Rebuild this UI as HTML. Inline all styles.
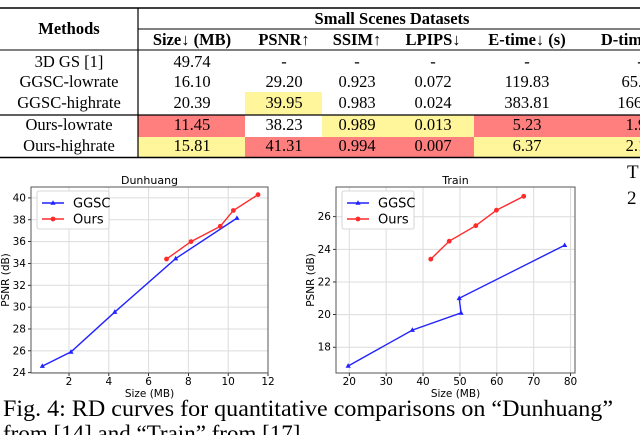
<!DOCTYPE html>
<html><head><meta charset="utf-8"><style>
html,body{margin:0;padding:0;background:#fff;width:640px;height:435px;overflow:hidden}
svg{display:block}
.t{font-family:"Liberation Serif",serif;font-size:16.5px;fill:#000}
.b{font-weight:bold}
.s{font-family:"DejaVu Sans","Liberation Sans",sans-serif;fill:#000}
</style></head><body>
<svg id="root" width="640" height="435" viewBox="0 0 640 435" xmlns="http://www.w3.org/2000/svg">
<g>
  <rect x="138" y="115" width="107" height="22" fill="#ff7f7f"/>
  <rect x="245" y="92" width="77" height="23" fill="#fff59a"/>
  <rect x="322" y="115" width="152" height="22" fill="#fff59a"/>
  <rect x="474" y="115" width="166" height="22" fill="#ff7f7f"/>
  <rect x="138" y="137" width="107" height="20" fill="#fff59a"/>
  <rect x="245" y="137" width="229" height="20" fill="#ff7f7f"/>
  <rect x="474" y="137" width="166" height="20" fill="#fff59a"/>
  <line x1="0" y1="8" x2="640" y2="8" stroke="#000" stroke-width="1.5"/>
  <line x1="138" y1="29" x2="640" y2="29" stroke="#000" stroke-width="1"/>
  <line x1="0" y1="50" x2="640" y2="50" stroke="#000" stroke-width="1"/>
  <line x1="0" y1="115" x2="640" y2="115" stroke="#000" stroke-width="1.2"/>
  <line x1="0" y1="157.5" x2="640" y2="157.5" stroke="#000" stroke-width="1.5"/>
  <line x1="138" y1="8" x2="138" y2="158" stroke="#000" stroke-width="1.2"/>
  <g text-anchor="middle">
    <text class="t b" x="69" y="34">Methods</text>
    <text class="t b" x="392" y="24">Small Scenes Datasets</text>
    <text class="t b" x="192" y="45">Size↓ (MB)</text>
    <text class="t b" x="284" y="45">PSNR↑</text>
    <text class="t b" x="357" y="45">SSIM↑</text>
    <text class="t b" x="433" y="45">LPIPS↓</text>
    <text class="t b" x="527" y="45">E-time↓ (s)</text>
    <text class="t b" x="640" y="45">D-time↓ (s)</text>
  </g>
  <g id="rows" text-anchor="middle"></g>
</g>

<g id="chart1"></g>
<g id="chart2"></g>

<text class="t" x="3" y="416" style="font-size:23px" textLength="610" lengthAdjust="spacingAndGlyphs">Fig. 4: RD curves for quantitative comparisons on “Dunhuang”</text>
<text class="t" x="3" y="441" style="font-size:23px">from [14] and “Train” from [17].</text>
<text class="t" x="627" y="178" style="font-size:19px">T</text>
<text class="t" x="627" y="204" style="font-size:19px">2</text>
</svg>
<script>
const NS="http://www.w3.org/2000/svg";
// table data
const methods=["3D GS [1]","GGSC-lowrate","GGSC-highrate","Ours-lowrate","Ours-highrate"];
const sizeVals=["49.74","16.10","20.39","11.45","15.81"];
const psnrVals=["-","29.20","39.95","38.23","41.31"];
const ssimVals=["-","0.923","0.983","0.989","0.994"];
const lpipsVals=["-","0.072","0.024","0.013","0.007"];
const etimeVals=["-","119.83","383.81","5.23","6.37"];
const dtimeVals=["-","65.12","166.21","1.91","2.13"];
// Dunhuang chart data
const dGgscX=[0.66,2.1,4.3,7.36,10.44];
const dGgscY=[24.6,25.9,29.55,34.45,38.15];
const dOursX=[6.9,8.13,9.6,10.26,11.5];
const dOursY=[34.4,36.0,37.4,38.85,40.3];
const dXTicks=[2,4,6,8,10,12];
const dYTicks=[24,26,28,30,32,34,36,38,40];
// Train chart data
const tGgscX=[19.7,37.1,50.3,49.8,78.4];
const tGgscY=[16.85,19.05,20.1,21.0,24.25];
const tOursX=[42.1,47.1,54.3,59.9,67.3];
const tOursY=[23.4,24.5,25.45,26.4,27.25];
const tXTicks=[20,30,40,50,60,70,80];
const tYTicks=[18,20,22,24,26];

function mk(tag,attrs,parent){const e=document.createElementNS(NS,tag);for(const k in attrs)e.setAttribute(k,attrs[k]);parent.appendChild(e);return e;}

const rows=document.getElementById('rows');
const rowY=[67,87,108,130,151];
const colX=[69,192,284,357,433,527,640];
const cols=[methods,sizeVals,psnrVals,ssimVals,lpipsVals,etimeVals,dtimeVals];
for(let r=0;r<methods.length;r++){
  for(let c=0;c<cols.length;c++){
    const t=mk('text',{class:'t',x:colX[c],y:rowY[r]},rows);
    
    
    t.textContent=cols[c][r];
  }
}

function chart(g,o){
  const sx=v=>o.L+(v-o.x0)/(o.x1-o.x0)*(o.R-o.L);
  const sy=v=>o.B-(v-o.y0)/(o.y1-o.y0)*(o.B-o.T);
  o.xt.forEach(v=>{
    const l=mk('line',{x1:sx(v),x2:sx(v),y1:o.T,y2:o.B,stroke:'#dcdcdc','stroke-width':1},g);
    
    
    mk('line',{x1:sx(v),x2:sx(v),y1:o.B,y2:o.B+3,stroke:'#000','stroke-width':0.8},g);
    const t=mk('text',{class:'s',x:sx(v),y:o.B+12,'font-size':10.5,'text-anchor':'middle'},g);
    
    
    t.textContent=v;
  });
  o.yt.forEach(v=>{
    const l=mk('line',{x1:o.L,x2:o.R,y1:sy(v),y2:sy(v),stroke:'#dcdcdc','stroke-width':1},g);
    
    
    mk('line',{x1:o.L-3,x2:o.L,y1:sy(v),y2:sy(v),stroke:'#000','stroke-width':0.8},g);
    const t=mk('text',{class:'s',x:o.L-5,y:sy(v)+3.5,'font-size':10.5,'text-anchor':'end'},g);
    
    
    t.textContent=v;
  });
  const fr=mk('rect',{x:o.L,y:o.T,width:o.R-o.L,height:o.B-o.T,fill:'none',stroke:'#555','stroke-width':1},g);
  
  
  const series=[[o.gx,o.gy,'#2222ff','tri','ggsc-series'],[o.ox,o.oy,'#ff2a2a','dot','ours-series']];
  series.forEach(([xs,ys,col,m,nm])=>{
    const pts=xs.map((x,i)=>sx(x)+','+sy(ys[i])).join(' ');
    const pl=mk('polyline',{points:pts,fill:'none',stroke:col,'stroke-width':1.4},g);
    
    
    xs.forEach((x,i)=>{
      const cx=sx(x),cy=sy(ys[i]);
      let p;
      if(m==='tri') p=mk('polygon',{points:`${cx},${cy-2.8} ${cx-2.6},${cy+1.8} ${cx+2.6},${cy+1.8}`,fill:col},g);
      else p=mk('circle',{cx:cx,cy:cy,r:2.4,fill:col},g);
      
      
    });
  });
  const tt=mk('text',{class:'s',x:(o.L+o.R)/2,y:o.T-3,'font-size':11,'text-anchor':'middle'},g);
  
  
  tt.textContent=o.title;
  const xl=mk('text',{class:'s',x:(o.L+o.R)/2,y:o.B+24,'font-size':10.5,'text-anchor':'middle'},g);
  
  
  xl.textContent='Size (MB)';
  const yx=o.ylx, yy=(o.T+o.B)/2;
  const yl=mk('text',{class:'s',x:yx,y:yy,'font-size':10.5,'text-anchor':'middle',transform:`rotate(-90 ${yx} ${yy})`},g);
  
  
  yl.textContent='PSNR (dB)';
  const lx=o.L+6, ly=o.T+4;
  const lg=mk('g',{},g);
  
  
  mk('rect',{x:lx,y:ly,width:72,height:38,fill:'#fff',stroke:'#ccc','stroke-width':0.8,rx:2},lg);
  [['GGSC','#2222ff','tri'],['Ours','#ff2a2a','dot']].forEach(([n,c,m],i)=>{
    const y=ly+12+i*16;
    const e=mk('g',{},lg);
    
    
    mk('line',{x1:lx+5,x2:lx+27,y1:y,y2:y,stroke:c,'stroke-width':1.4},e);
    if(m==='tri') mk('polygon',{points:`${lx+16},${y-2.8} ${lx+13.4},${y+1.8} ${lx+18.6},${y+1.8}`,fill:c},e);
    else mk('circle',{cx:lx+16,cy:y,r:2.4,fill:c},e);
    const t=mk('text',{class:'s',x:lx+36,y:y+4.5,'font-size':13},e);
    t.textContent=n;
  });
}
chart(document.getElementById('chart1'),{L:31,R:268,T:187,B:373,x0:0.09,x1:12,y0:23.97,y1:41.0,xt:dXTicks,yt:dYTicks,gx:dGgscX,gy:dGgscY,ox:dOursX,oy:dOursY,title:'Dunhuang',ylx:9});
chart(document.getElementById('chart2'),{L:336,R:575,T:187,B:373,x0:16.4,x1:81.2,y0:16.42,y1:27.82,xt:tXTicks,yt:tYTicks,gx:tGgscX,gy:tGgscY,ox:tOursX,oy:tOursY,title:'Train',ylx:314});
</script>
</body></html>
